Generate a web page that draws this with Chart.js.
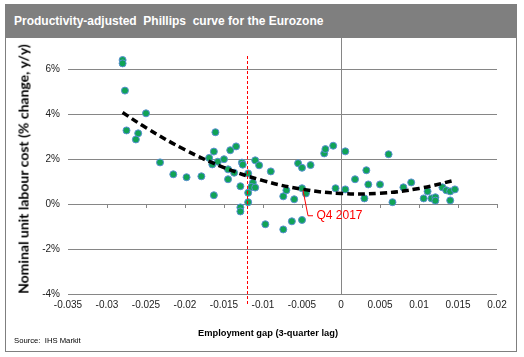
<!DOCTYPE html>
<html>
<head>
<meta charset="utf-8">
<script src="https://cdn.jsdelivr.net/npm/chart.js@4.4.1/dist/chart.umd.min.js"></script>
<style>
  html, body { margin:0; padding:0; background:#fff; }
  #wrap { position:relative; width:524px; height:357px; background:#fff; overflow:hidden; }
  #c { position:absolute; left:0; top:0; }
  #frame { position:absolute; left:5px; top:4px; width:512px; height:348px; box-sizing:border-box; border:1px solid #7f7f7f; pointer-events:none; }
  #titlebar { position:absolute; left:5px; top:4px; width:511px; height:34px; background:#7f7f7f; color:#fff;
    font:bold 12px "Liberation Sans", Arial, sans-serif; line-height:34px; padding-left:9px; box-sizing:border-box; white-space:pre; }
  #ytitle { position:absolute; left:23px; top:169px; transform:translate(-50%,-50%) rotate(-90deg); white-space:nowrap;
    font:bold 14px Lato, "Open Sans", sans-serif; color:#000; }
  #xtitle { position:absolute; left:268px; top:333px; transform:translate(-50%,-50%); white-space:nowrap;
    font:bold 9.3px "Liberation Sans", Arial, sans-serif; color:#000; }
  #source { position:absolute; left:14px; top:336px; white-space:pre; font:7.7px "Liberation Sans", Arial, sans-serif; color:#000; line-height:10px; }
</style>
</head>
<body>
<div id="wrap">
  <canvas id="c" width="524" height="357"></canvas>
  <div id="titlebar">Productivity-adjusted  Phillips  curve for the Eurozone</div>
  <div id="frame"></div>
  <div id="ytitle">Nominal unit labour cost (% change, y/y)</div>
  <div id="xtitle">Employment gap (3-quarter lag)</div>
  <div id="source">Source:  IHS Markit</div>
</div>
<script>
// Employment gap (x) and unit labour cost growth in % (y)
const gapValues = [
  -0.0280,-0.0280,-0.0277,-0.0275,-0.0250,-0.0260,-0.0263,-0.0232,-0.0215,-0.0198,
  -0.0179,-0.0169,-0.0161,-0.0163,-0.0165,-0.0158,-0.0150,-0.0142,-0.01345,-0.01448,
  -0.01448,-0.0137,-0.0163,-0.0127,-0.0126,-0.0129,-0.0129,-0.0129,-0.0119,-0.0119,
  -0.0119,-0.0113,-0.0115,-0.0110,-0.0110,-0.0105,-0.0090,-0.0097,-0.0074,-0.0063,
  -0.0074,-0.0070,-0.0060,-0.0055,-0.0050,-0.0050,-0.0039,-0.0050,-0.0045,-0.00215,
  -0.0020,-0.0010,0.00055,-0.0007,0.00055,0.0018,0.00325,0.0030,0.0035,0.0050,
  0.0061,0.0066,0.0080,0.0090,0.0106,0.0111,0.0116,0.0121,0.0121,0.0130,
  0.0135,0.0140,0.0146,0.0140
];
const ulcValues = [
  6.40,6.25,5.04,3.27,4.03,3.14,2.87,1.85,1.32,1.19,
  1.23,2.05,3.19,2.33,1.76,1.88,1.99,2.39,2.56,1.54,
  1.10,1.39,0.39,1.84,1.75,0.79,-0.15,-0.33,1.36,0.50,
  0.08,0.95,0.76,0.73,1.94,1.72,1.45,-0.90,-1.13,-0.77,
  0.34,0.61,0.21,1.81,-0.71,1.61,1.73,0.70,0.47,2.25,
  2.44,2.59,2.34,0.70,0.65,1.10,1.50,0.25,0.87,0.87,
  2.21,0.08,0.74,0.96,0.25,0.56,0.25,0.30,0.15,0.74,
  0.61,0.56,0.65,0.16
];
// Fitted trend
const trendX = [-0.028,-0.025,-0.020,-0.015,-0.010,-0.005,0.000,0.005,0.010,0.0145];
const trendY = [4.07,3.39,2.41,1.62,1.04,0.66,0.47,0.48,0.69,1.05];
// Axis ticks
const xTicks = [-0.035,-0.03,-0.025,-0.02,-0.015,-0.01,-0.005,0,0.005,0.01,0.015,0.02];
const xTickLabels = ['-0.035','-0.03','-0.025','-0.02','-0.015','-0.01','-0.005','0','0.005','0.01','0.015','0.02'];
const yTicks = [-4,-2,0,2,4,6];
const yTickLabels = ['-4%','-2%','0%','2%','4%','6%'];
// Annotations
const markerGap = -0.012;
const q4Point = {x:-0.0050, y:0.70};
const q4Label = 'Q4 2017';

const scatterData = gapValues.map((x,i)=>({x, y: ulcValues[i]}));
const trendData = trendX.map((x,i)=>({x, y: trendY[i]}));

const GRID = '#868686';

const annot = {
  id:'annot',
  afterDatasetsDraw(chart){
    const {ctx, chartArea:a, scales:{x,y}} = chart;
    ctx.save();
    // tick marks on the 0% line (x axis crossing)
    const y0 = y.getPixelForValue(0);
    ctx.strokeStyle = GRID; ctx.lineWidth = 1;
    ctx.beginPath();
    xTicks.forEach(v=>{
      if (v === xTicks[0]) return;
      const px = Math.round(x.getPixelForValue(v)) + 0.5;
      ctx.moveTo(px, y0); ctx.lineTo(px, y0 + 4);
    });
    ctx.stroke();
    // red dashed vertical marker
    const mx = Math.round(x.getPixelForValue(markerGap));
    const yTop = Math.round(y.getPixelForValue(6.6));
    ctx.fillStyle = '#ff0000';
    for (let yy = yTop; yy < a.bottom + 11; yy += 5) {
      ctx.fillRect(mx, yy, 1, Math.min(3, a.bottom + 11 - yy));
    }
    // Q4 2017 leader + label
    const px = x.getPixelForValue(q4Point.x), py = y.getPixelForValue(q4Point.y);
    const cy = py + 27.5;
    ctx.strokeStyle = '#ff0000';
    ctx.beginPath();
    ctx.moveTo(px + 1, py + 2); ctx.lineTo(px + 6, cy); ctx.lineTo(px + 11, cy); ctx.stroke();
    ctx.font = '12px "Liberation Sans", Arial, sans-serif';
    ctx.textBaseline = 'middle'; ctx.textAlign = 'left';
    ctx.fillText(q4Label, px + 14.5, cy);
    ctx.restore();
  }
};

new Chart(document.getElementById('c'), {
  type:'scatter',
  data:{
    datasets:[
      { label:'Trend', data:trendData, showLine:true, borderColor:'#000', borderWidth:3.5, borderDash:[7,4],
        pointRadius:0, tension:0.4, fill:false, order:0 },
      { label:'ULC', data:scatterData, pointRadius:3.5, pointHoverRadius:3.5, backgroundColor:'#10a356',
        borderColor:'#5a8fd2', borderWidth:1, order:1 }
    ]
  },
  options:{
    responsive:false, animation:false, devicePixelRatio:1,
    layout:{ padding:{ left:0, top:24, right:27, bottom:0 } },
    plugins:{ legend:{display:false}, tooltip:{enabled:false} },
    scales:{
      x:{
        type:'linear', min:-0.035, max:0.02,
        afterBuildTicks(s){ s.ticks = xTicks.map(v=>({value:v})); },
        afterFit(s){ s.height = 63; },
        ticks:{ callback:(v,i)=>xTickLabels[i], padding:5, color:'#222', maxRotation:0, autoSkip:false,
          font:{ family:'"Liberation Sans", Arial, sans-serif', size:10 } },
        grid:{ drawTicks:false, color:(c)=> (c.tick && c.tick.value === 0) ? GRID : 'rgba(0,0,0,0)' },
        border:{ display:false }
      },
      y:{
        type:'linear', min:-4, max:8,
        afterBuildTicks(s){ s.ticks = yTicks.map(v=>({value:v})); },
        afterFit(s){ s.width = 68; },
        ticks:{ callback:(v,i)=>yTickLabels[i], padding:8, color:'#222',
          font:{ family:'"Liberation Sans", Arial, sans-serif', size:10 } },
        grid:{ drawTicks:false, color:GRID },
        border:{ display:false }
      }
    }
  },
  plugins:[annot]
});
</script>
</body>
</html>
